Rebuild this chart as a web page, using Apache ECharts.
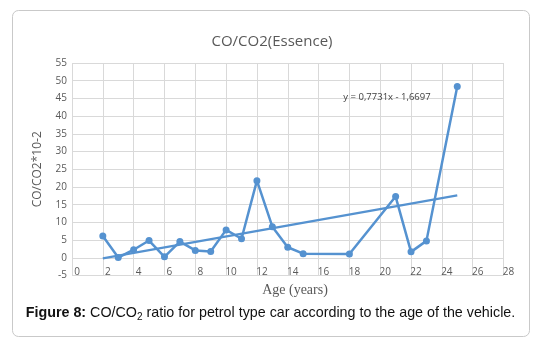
<!DOCTYPE html>
<html>
<head>
<meta charset="utf-8">
<script src="https://cdn.jsdelivr.net/npm/echarts@6/dist/echarts.min.js"></script>
<style>
html,body{margin:0;padding:0;background:#fff;}
#chart{width:535px;height:341px;}
</style>
</head>
<body>
<div id="chart"></div>
<script>
// ---- data ----
const ages = [2, 3, 4, 5, 6, 7, 8, 9, 10, 11, 12, 13, 14, 15, 18, 21, 22, 23, 25];
const ratios = [6.2, 0.1, 2.3, 4.9, 0.3, 4.6, 2.1, 1.8, 7.9, 5.4, 21.8, 8.8, 3.0, 1.2, 1.1, 17.3, 1.7, 4.8, 48.4];
const trendSlope = 0.7731;
const trendIntercept = -1.6697;
const trendRange = [2, 25];
const xTicks = {min: 0, max: 28, interval: 2};
const yTicks = {min: -5, max: 55, interval: 5};
const chartTitle = 'CO/CO2(Essence)';
const yAxisTitle = 'CO/CO2*10-2';
const xAxisTitle = 'Age (years)';
const equationText = 'y = 0,7731x - 1,6697';

const lineColor = '#5592d0';
const gridColor = '#d9d9d9';
const textColor = '#595959';

const mainData = ages.map((a, i) => [a, ratios[i]]);
const trendData = trendRange.map(x => [x, trendSlope * x + trendIntercept]);

const chart = echarts.init(document.getElementById('chart'), null, {renderer: 'canvas'});
chart.setOption({
  animation: false,
  backgroundColor: '#ffffff',
  grid: {left: 72, right: 31.5, top: 63, bottom: 65.4, containLabel: false},
  xAxis: {
    type: 'value', min: xTicks.min, max: xTicks.max, interval: xTicks.interval,
    axisLine: {show: false}, axisTick: {show: false},
    splitLine: {show: true, lineStyle: {color: gridColor, width: 1}},
    axisLabel: {color: textColor, fontSize: 10, fontFamily: 'Open Sans', margin: -8, padding: [0, 0, 0, 10]}
  },
  yAxis: {
    type: 'value', min: yTicks.min, max: yTicks.max, interval: yTicks.interval,
    axisLine: {show: false}, axisTick: {show: false},
    splitLine: {show: true, lineStyle: {color: gridColor, width: 1}},
    axisLabel: {color: textColor, fontSize: 10, fontFamily: 'Open Sans', margin: 5},
    name: yAxisTitle, nameLocation: 'middle', nameGap: 28, nameRotate: 90,
    nameTextStyle: {color: textColor, fontSize: 12, fontFamily: 'Open Sans'}
  },
  series: [
    {
      type: 'line', data: mainData, symbol: 'circle', symbolSize: 7,
      lineStyle: {color: lineColor, width: 2.5}, itemStyle: {color: lineColor},
      z: 3
    },
    {
      type: 'line', data: trendData, symbol: 'none',
      lineStyle: {color: lineColor, width: 2.2}, z: 4
    }
  ],
  graphic: [
    {type: 'rect', z: -10, shape: {x: 12.5, y: 10.5, width: 517, height: 326, r: 6},
     style: {fill: 'none', stroke: '#c9c9c9', lineWidth: 1}},
    {type: 'text', x: 272, y: 42, z: 10,
     style: {text: chartTitle, fill: textColor, font: '15px "Open Sans"', align: 'center', verticalAlign: 'middle'}},
    {type: 'text', x: 387, y: 97, z: 10,
     style: {text: equationText, fill: '#404040', font: '9.5px "Open Sans"', align: 'center', verticalAlign: 'middle'}},
    {type: 'text', x: 295, y: 290, z: 10,
     style: {text: xAxisTitle, fill: textColor, font: '14px "Liberation Serif"', align: 'center', verticalAlign: 'middle'}},
    {type: 'text', x: 270.5, y: 313, z: 10,
     style: {
       text: '{b|Figure 8:} CO/CO{s|2} ratio for petrol type car according to the age of the vehicle.',
       fill: '#111', font: '14.3px "Liberation Sans"', align: 'center', verticalAlign: 'middle',
       rich: {
         b: {fontWeight: 'bold', fontSize: 14.3, fontFamily: 'Liberation Sans', fill: '#111'},
         s: {fontSize: 10, fontFamily: 'Liberation Sans', fill: '#111', padding: [8, 0, 0, 0]}
       }
     }}
  ]
});
</script>
</body>
</html>
